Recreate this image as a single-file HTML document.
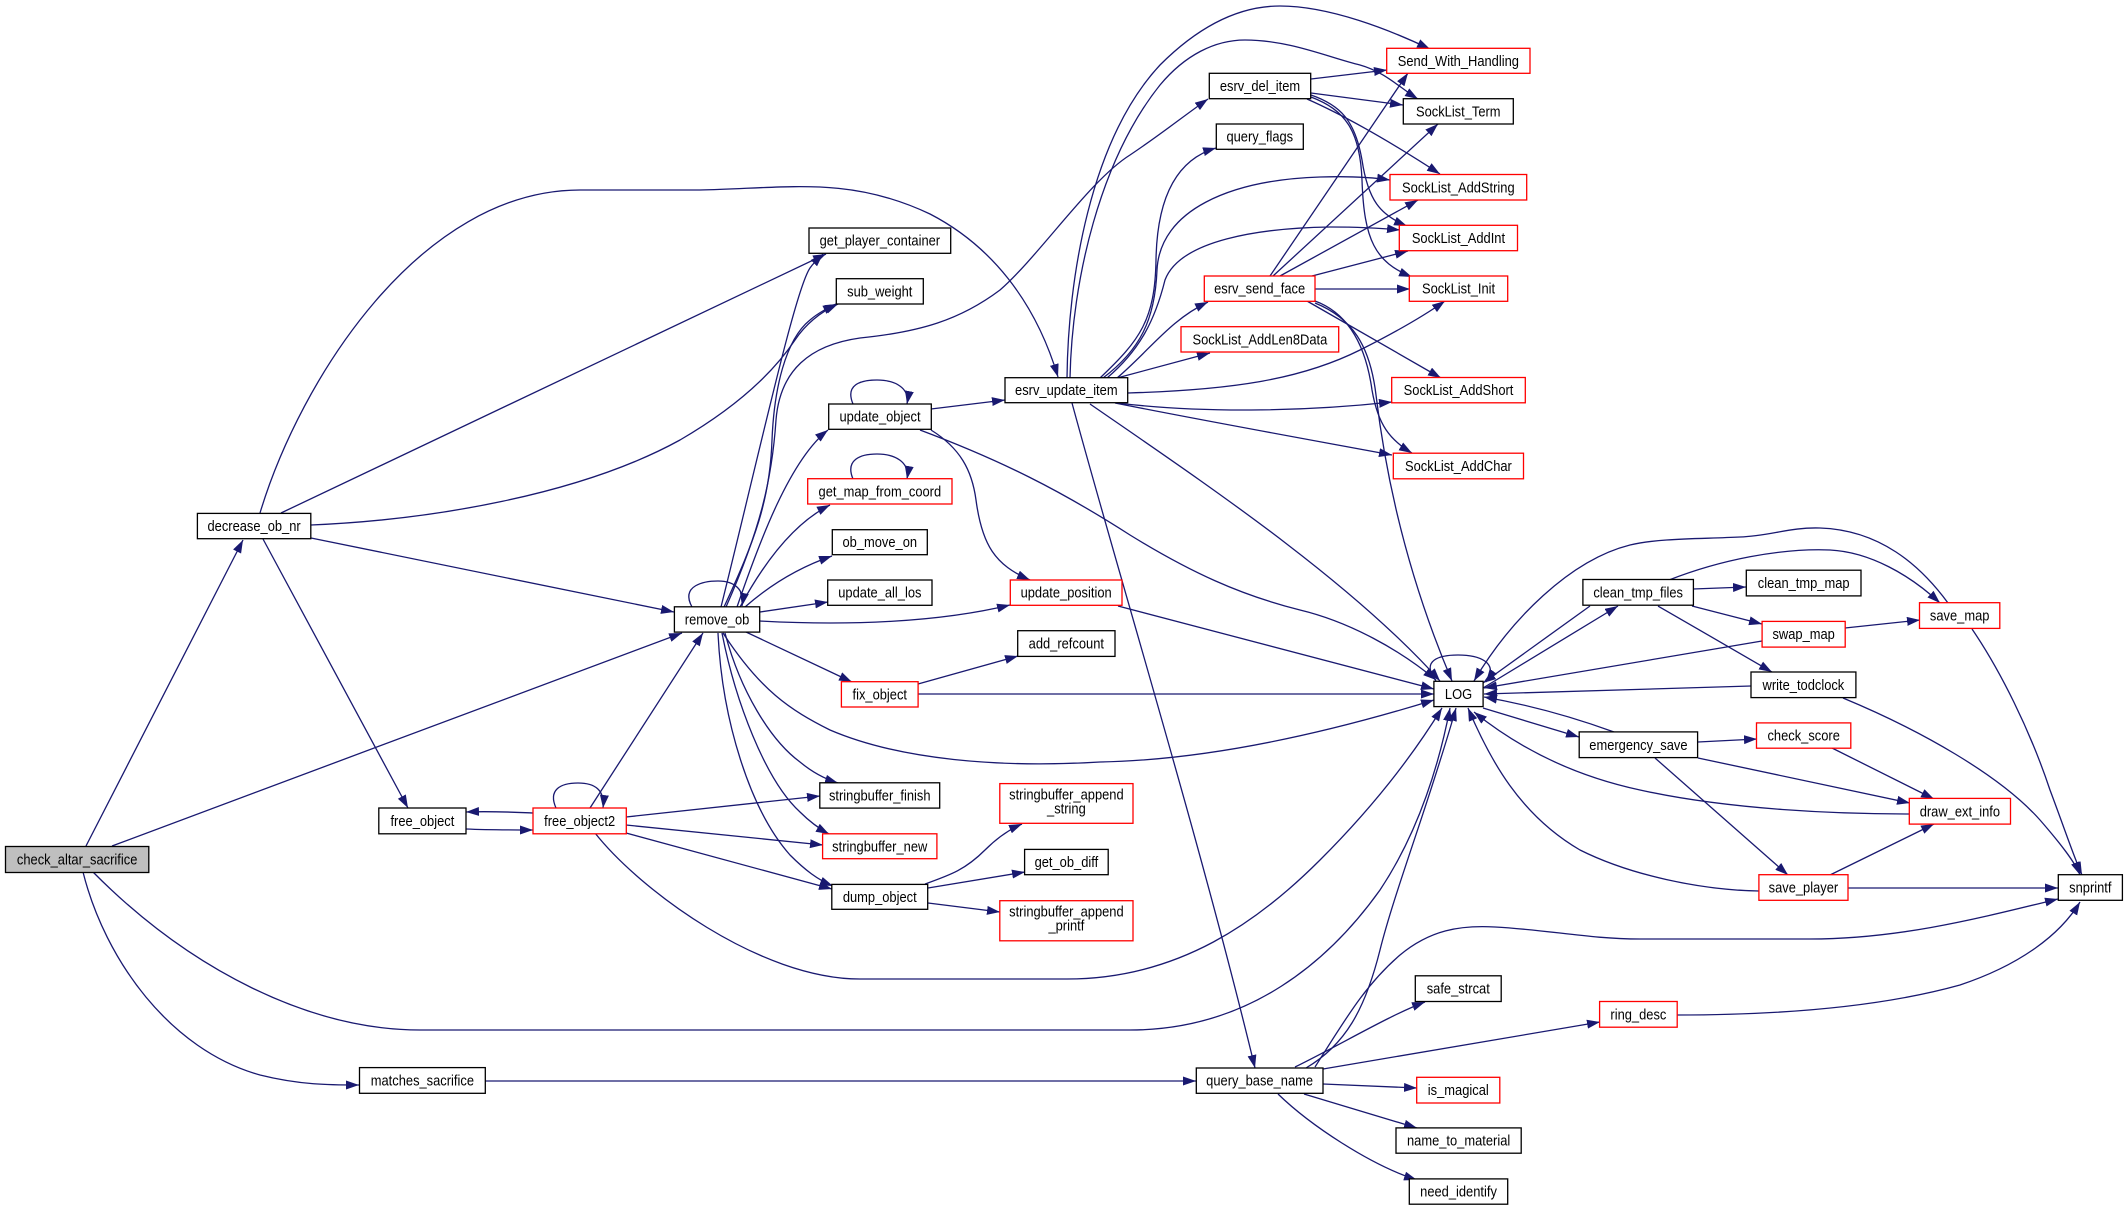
<!DOCTYPE html>
<html><head><meta charset="utf-8"><style>
html,body{margin:0;padding:0;background:#fff;}
svg{display:block;}
</style></head><body>
<svg width="2128" height="1210" viewBox="0 0 2128 1210" xmlns="http://www.w3.org/2000/svg">
<defs>
<marker id="a" markerUnits="userSpaceOnUse" markerWidth="14" markerHeight="10" refX="13" refY="4.5" orient="auto">
<path d="M0,0 L13,4.5 L0,9 z" fill="#191970"/>
</marker>
</defs>
<rect width="2128" height="1210" fill="#fff"/>
<g fill="none" stroke="#191970" stroke-width="1.3" marker-end="url(#a)">
<path d="M86,846 L243,540"/>
<path d="M112,846 L682,633"/>
<path d="M93,872 C190,970 310,1030 420,1030 L1130,1030 C1250,1030 1330,960 1380,890 C1420,830 1440,760 1450,708"/>
<path d="M83,872 C105,960 170,1050 260,1075 C300,1085 330,1085 359,1085"/>
<path d="M260,513 C300,380 420,190 580,190 L700,190 C790,188 850,176 930,214 C990,245 1035,300 1058,377"/>
<path d="M281,513 L826,254"/>
<path d="M311,525 C430,520 580,495 680,440 C740,405 775,370 795,340 C805,325 820,312 838,304"/>
<path d="M311,538 L674,612"/>
<path d="M263,539 L408,808"/>
<path d="M692,607 C680,585 705,581 718,581 C735,581 745,590 742,606"/>
<path d="M721,607 C760,450 795,290 810,268 C815,261 820,257 823,254"/>
<path d="M724,607 C755,540 770,500 772,440 C774,390 785,340 810,320 C818,313 828,308 836,304"/>
<path d="M726,607 C760,530 772,480 776,420 C780,370 810,345 860,338 C920,332 960,320 1000,290 C1040,255 1090,180 1130,155 C1160,135 1185,115 1208,99"/>
<path d="M737,607 C760,540 790,460 828,430"/>
<path d="M740,607 C760,570 790,525 830,505"/>
<path d="M745,607 C770,585 800,567 832,556"/>
<path d="M760,612 L828,602"/>
<path d="M760,621 C850,626 940,622 1010,605"/>
<path d="M746,632 L852,682"/>
<path d="M723,633 C760,690 790,710 830,730 C900,760 1000,768 1100,762 C1210,760 1330,732 1434,700"/>
<path d="M725,633 C740,690 770,740 800,762 C812,772 825,779 838,783"/>
<path d="M722,633 C735,700 765,780 800,812 C810,822 818,828 829,834"/>
<path d="M718,633 C722,720 750,810 790,855 C805,870 818,880 833,886"/>
<path d="M533,813 C510,812 490,811 466,812"/>
<path d="M466,829 C490,830 510,830 533,830"/>
<path d="M556,808 C548,790 560,783 578,783 C595,783 605,790 603,808"/>
<path d="M590,808 L703,633"/>
<path d="M626,817 L820,796"/>
<path d="M626,825 L823,845"/>
<path d="M626,833 L832,889"/>
<path d="M595,833 C640,890 760,979 860,979 L1067,979 C1180,979 1260,920 1320,860 C1370,810 1410,760 1442,708"/>
<path d="M853,404 C845,385 860,380 877,380 C895,380 910,388 907,404"/>
<path d="M931,409 L1005,400"/>
<path d="M931,430 C960,448 972,470 976,500 C982,545 995,565 1030,580"/>
<path d="M920,430 C1000,460 1060,490 1130,535 C1190,572 1240,595 1300,610 C1350,622 1400,650 1436,680"/>
<path d="M853,479 C845,460 860,454 877,454 C895,454 910,462 907,479"/>
<path d="M918,684 L1018,656"/>
<path d="M918,694 L1434,694"/>
<path d="M1118,606 L1434,689"/>
<path d="M925,884 C950,875 965,870 985,850 C995,840 1008,830 1022,824"/>
<path d="M928,888 L1025,872"/>
<path d="M928,903 L1000,912"/>
<path d="M1067,378 C1068,280 1090,140 1160,65 C1200,25 1240,6 1280,6 C1330,6 1390,30 1430,49"/>
<path d="M1070,378 C1072,280 1100,160 1160,85 C1185,55 1215,40 1245,40 C1290,40 1330,58 1360,65 C1385,72 1400,88 1418,99"/>
<path d="M1100,378 C1140,340 1155,320 1156,260 C1157,200 1175,160 1216,148"/>
<path d="M1103,378 C1140,350 1155,320 1157,270 C1160,210 1230,180 1320,177 C1350,176 1370,177 1390,180"/>
<path d="M1107,378 C1140,350 1155,320 1165,280 C1180,240 1260,228 1330,227 C1360,227 1380,228 1400,230"/>
<path d="M1117,378 C1150,350 1170,320 1208,302"/>
<path d="M1117,378 L1210,353"/>
<path d="M1128,393 C1230,390 1300,380 1360,350 C1400,330 1425,315 1445,301"/>
<path d="M1117,403 C1200,413 1300,412 1392,402"/>
<path d="M1115,403 C1200,420 1300,438 1392,455"/>
<path d="M1090,404 C1200,480 1350,580 1440,681"/>
<path d="M1072,403 C1120,580 1200,840 1255,1068"/>
<path d="M1311,79 L1387,70"/>
<path d="M1311,93 L1403,105"/>
<path d="M1307,99 C1350,118 1400,148 1440,174"/>
<path d="M1311,95 C1340,105 1355,120 1362,160 C1368,200 1380,215 1407,226"/>
<path d="M1311,97 C1345,110 1360,130 1362,180 C1364,240 1375,262 1412,277"/>
<path d="M1270,276 L1408,73"/>
<path d="M1273,276 L1438,124"/>
<path d="M1280,276 L1418,200"/>
<path d="M1312,276 L1408,251"/>
<path d="M1315,289 L1410,289"/>
<path d="M1307,301 L1441,378"/>
<path d="M1315,301 C1345,312 1365,340 1372,390 C1378,425 1390,440 1412,453"/>
<path d="M1315,303 C1352,318 1370,345 1376,395 C1385,470 1405,570 1452,681"/>
<path d="M1436,681 C1420,660 1440,655 1458,655 C1478,655 1500,662 1486,682"/>
<path d="M1483,688 L1618,606"/>
<path d="M1483,708 L1579,737"/>
<path d="M1590,606 L1483,683"/>
<path d="M1693,589 L1746,587"/>
<path d="M1692,606 L1762,624"/>
<path d="M1669,580 C1720,560 1780,548 1830,550 C1870,552 1910,575 1940,603"/>
<path d="M1658,606 L1772,672"/>
<path d="M1948,603 C1920,565 1880,530 1820,528 C1790,527 1770,536 1740,537 C1700,539 1660,538 1630,545 C1570,560 1510,620 1474,681"/>
<path d="M1972,629 C2000,670 2030,730 2050,790 C2065,830 2075,860 2082,875"/>
<path d="M1762,641 L1484,688"/>
<path d="M1845,628 L1920,620"/>
<path d="M1751,686 L1484,694"/>
<path d="M1843,698 C1920,730 2000,775 2040,820 C2060,843 2075,862 2080,875"/>
<path d="M1614,732 C1570,716 1530,705 1484,697"/>
<path d="M1698,742 L1757,739"/>
<path d="M1698,758 L1910,803"/>
<path d="M1655,758 L1788,875"/>
<path d="M1832,748 L1934,799"/>
<path d="M1909,814 C1840,814 1730,810 1640,790 C1570,775 1515,745 1474,712"/>
<path d="M1830,875 L1934,824"/>
<path d="M1848,888 L2058,888"/>
<path d="M1759,891 C1700,890 1630,875 1580,850 C1520,815 1490,760 1468,708"/>
<path d="M1306,1068 C1345,1045 1365,1010 1380,950 C1395,890 1430,800 1456,708"/>
<path d="M1315,1067 C1345,1020 1365,985 1400,955 C1430,930 1460,925 1495,927 C1550,930 1590,939 1640,939 L1810,939 C1900,939 1980,918 2058,899"/>
<path d="M1295,1067 C1340,1045 1390,1015 1425,1002"/>
<path d="M1323,1069 L1600,1022"/>
<path d="M1323,1084 L1417,1088"/>
<path d="M1304,1094 L1417,1128"/>
<path d="M1278,1094 C1310,1125 1370,1165 1417,1180"/>
<path d="M1677,1015 C1760,1015 1870,1010 1960,985 C2020,965 2060,935 2080,902"/>
<path d="M485,1081 L1196,1081"/>
</g>
<g stroke-width="1.3" fill="#fff" stroke="#000">
<rect x="5.5" y="846.5" width="143.3" height="26" fill="#bfbfbf"/>
<rect x="197.4" y="513.4" width="113.4" height="25.3"/>
<rect x="378.8" y="808" width="87.2" height="25.8"/>
<rect x="533" y="808" width="93.3" height="25.8" stroke="#ff0000"/>
<rect x="359.5" y="1067.6" width="125.8" height="25.7"/>
<rect x="674.4" y="606.8" width="85.3" height="25.3"/>
<rect x="809" y="228" width="141.7" height="25.3"/>
<rect x="836.3" y="278.7" width="87" height="25.3"/>
<rect x="828.7" y="404" width="102.6" height="25.3"/>
<rect x="807.7" y="478.7" width="144.3" height="25.3" stroke="#ff0000"/>
<rect x="832.3" y="529.7" width="95" height="25"/>
<rect x="827.7" y="580" width="104.3" height="25.3"/>
<rect x="1005" y="377.7" width="122.7" height="25"/>
<rect x="1010.3" y="580" width="111.7" height="25.3" stroke="#ff0000"/>
<rect x="1209.3" y="73.3" width="101.4" height="25.4"/>
<rect x="1216.3" y="124" width="87" height="25.3"/>
<rect x="1204.3" y="276" width="110.7" height="25.3" stroke="#ff0000"/>
<rect x="1181" y="326.7" width="157.7" height="25.3" stroke="#ff0000"/>
<rect x="1386.7" y="48.3" width="143.3" height="25" stroke="#ff0000"/>
<rect x="1403.3" y="98.7" width="110" height="25.3"/>
<rect x="1390" y="174.5" width="136.7" height="25.5" stroke="#ff0000"/>
<rect x="1399.3" y="225.3" width="118.2" height="25.4" stroke="#ff0000"/>
<rect x="1409.3" y="276" width="98.4" height="25.3" stroke="#ff0000"/>
<rect x="1391.7" y="377.5" width="133.6" height="25.3" stroke="#ff0000"/>
<rect x="1393.3" y="453.2" width="130.2" height="25.6" stroke="#ff0000"/>
<rect x="1582.9" y="579.5" width="110.5" height="25.7"/>
<rect x="1746.3" y="570.2" width="114.7" height="25.7"/>
<rect x="1919.5" y="602.7" width="80.3" height="25.7" stroke="#ff0000"/>
<rect x="1762.1" y="621.4" width="83.1" height="25.7" stroke="#ff0000"/>
<rect x="1433.9" y="681.3" width="49.2" height="25.3"/>
<rect x="1751" y="672" width="104.9" height="25.6"/>
<rect x="1579.2" y="731.9" width="118.4" height="25.7"/>
<rect x="1756.5" y="722.9" width="94.3" height="25.3" stroke="#ff0000"/>
<rect x="1909.3" y="798.4" width="101.2" height="25.7" stroke="#ff0000"/>
<rect x="1758.9" y="874.7" width="89.1" height="25.6" stroke="#ff0000"/>
<rect x="2058.3" y="874.7" width="64.1" height="25.6"/>
<rect x="841.4" y="681.7" width="76.7" height="25.3" stroke="#ff0000"/>
<rect x="1017.7" y="630.7" width="97.3" height="25.7"/>
<rect x="819.8" y="782.8" width="119.9" height="25.3"/>
<rect x="999.8" y="783.6" width="133.2" height="39.7" stroke="#ff0000"/>
<rect x="822.6" y="833.8" width="114.3" height="24.9" stroke="#ff0000"/>
<rect x="1024.6" y="849.4" width="83.6" height="25.3"/>
<rect x="831.8" y="884.4" width="95.9" height="24.9"/>
<rect x="999.8" y="900.7" width="133.2" height="40.1" stroke="#ff0000"/>
<rect x="1196.3" y="1068" width="126.7" height="25.3"/>
<rect x="1415.3" y="975.8" width="85.9" height="25.7"/>
<rect x="1599.6" y="1001.5" width="77.6" height="25.7" stroke="#ff0000"/>
<rect x="1416.7" y="1077.3" width="83.1" height="25.7" stroke="#ff0000"/>
<rect x="1396" y="1127.9" width="125.2" height="25.3"/>
<rect x="1409.3" y="1178.9" width="98.4" height="25.3"/>
</g>
<g transform="scale(0.89,1)" font-family="'Liberation Sans', Arial, sans-serif" font-size="14.5" fill="#000" text-anchor="middle">
<text x="86.7" y="864.5">check_altar_sacrifice</text>
<text x="285.5" y="531">decrease_ob_nr</text>
<text x="474.6" y="825.9">free_object</text>
<text x="651.3" y="825.9">free_object2</text>
<text x="474.6" y="1085.5">matches_sacrifice</text>
<text x="805.7" y="624.5">remove_ob</text>
<text x="988.6" y="245.7">get_player_container</text>
<text x="988.5" y="296.4">sub_weight</text>
<text x="988.8" y="421.7">update_object</text>
<text x="988.6" y="496.4">get_map_from_coord</text>
<text x="988.5" y="547.2">ob_move_on</text>
<text x="988.6" y="597.7">update_all_los</text>
<text x="1198.1" y="395.2">esrv_update_item</text>
<text x="1197.9" y="597.7">update_position</text>
<text x="1415.7" y="91">esrv_del_item</text>
<text x="1415.5" y="141.7">query_flags</text>
<text x="1415.3" y="293.7">esrv_send_face</text>
<text x="1415.6" y="344.4">SockList_AddLen8Data</text>
<text x="1638.6" y="65.8">Send_With_Handling</text>
<text x="1638.5" y="116.4">SockList_Term</text>
<text x="1638.6" y="192.3">SockList_AddString</text>
<text x="1638.7" y="243">SockList_AddInt</text>
<text x="1638.8" y="293.7">SockList_Init</text>
<text x="1638.8" y="395.2">SockList_AddShort</text>
<text x="1638.7" y="471">SockList_AddChar</text>
<text x="1840.6" y="597.4">clean_tmp_files</text>
<text x="2026.6" y="588">clean_tmp_map</text>
<text x="2201.9" y="620.6">save_map</text>
<text x="2026.6" y="639.2">swap_map</text>
<text x="1638.8" y="699">LOG</text>
<text x="2026.3" y="689.8">write_todclock</text>
<text x="1840.9" y="749.8">emergency_save</text>
<text x="2026.6" y="740.6">check_score</text>
<text x="2202.1" y="816.3">draw_ext_info</text>
<text x="2026.3" y="892.5">save_player</text>
<text x="2348.7" y="892.5">snprintf</text>
<text x="988.5" y="699.4">fix_object</text>
<text x="1198.1" y="648.6">add_refcount</text>
<text x="988.5" y="800.5">stringbuffer_finish</text>
<text x="1198.2" y="799.5">stringbuffer_append</text>
<text x="1198.2" y="813.5">_string</text>
<text x="988.5" y="851.3">stringbuffer_new</text>
<text x="1198.2" y="867">get_ob_diff</text>
<text x="988.5" y="901.9">dump_object</text>
<text x="1198.2" y="916.5">stringbuffer_append</text>
<text x="1198.2" y="930.7">_printf</text>
<text x="1415.3" y="1085.7">query_base_name</text>
<text x="1638.5" y="993.7">safe_strcat</text>
<text x="1840.9" y="1019.4">ring_desc</text>
<text x="1638.5" y="1095.2">is_magical</text>
<text x="1638.9" y="1145.6">name_to_material</text>
<text x="1638.8" y="1196.6">need_identify</text>
</g>
</svg>
</body></html>
